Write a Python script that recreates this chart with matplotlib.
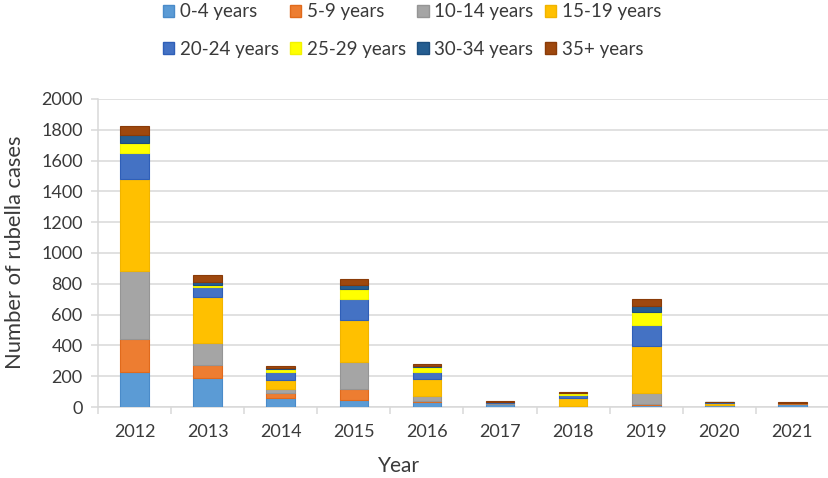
import matplotlib
matplotlib.use("Agg")
import matplotlib.pyplot as plt
from matplotlib.patches import Patch
import numpy as np

years = ["2012", "2013", "2014", "2015", "2016", "2017", "2018", "2019", "2020", "2021"]
groups = ["0-4 years", "5-9 years", "10-14 years", "15-19 years",
          "20-24 years", "25-29 years", "30-34 years", "35+ years"]

age_0_4   = [225, 186, 60, 43, 30, 20, 3, 13, 12, 22]
age_5_9   = [218, 90, 32, 77, 12, 2, 2, 4, 1, 1]
age_10_14 = [441, 141, 24, 171, 31, 2, 3, 77, 2, 1]
age_15_19 = [597, 294, 59, 274, 107, 3, 52, 300, 8, 1]
age_20_24 = [167, 66, 52, 137, 47, 5, 19, 141, 8, 1]
age_25_29 = [66, 17, 19, 62, 30, 1, 9, 84, 1, 0]
age_30_34 = [54, 15, 6, 30, 8, 2, 6, 40, 1, 1]
age_35p   = [58, 45, 13, 34, 13, 6, 4, 43, 1, 7]

series = [age_0_4, age_5_9, age_10_14, age_15_19, age_20_24, age_25_29, age_30_34, age_35p]
colors = ["#5B9BD5", "#ED7D31", "#A5A5A5", "#FFC000", "#4472C4", "#FFFF00", "#255E91", "#9E480E"]
edges = ["#4A8BC9", "#E06A1C", "#959595", "#F0B400", "#2F5FB8", "#F2F200", "#1C4E7E", "#8A3B08"]

plt.rcParams['font.family'] = ['Lato', 'DejaVu Sans']
txt = "#3A3A3A"
grid = "#D9D9D9"

fig = plt.figure(figsize=(8.29, 4.78), dpi=100)
ax = fig.add_axes([0.1182, 0.1485, 0.8818, 0.6445])

x = np.arange(len(years))
bottom = np.zeros(len(years))
for vals, c, e in zip(series, colors, edges):
    v = np.array(vals, dtype=float)
    ax.bar(x, v, 0.39, bottom=bottom, color=c, edgecolor=e, linewidth=0.8, zorder=3)
    bottom += v

ax.set_xlim(-0.5, len(years) - 0.5)
ax.set_ylim(0, 2000)
ax.set_yticks(np.arange(0, 2001, 200))
ax.yaxis.grid(True, color=grid, linewidth=1.1, zorder=0)
ax.set_axisbelow(True)

ax.set_xticks(x)
ax.set_xticklabels(years)
ax.set_xticks(np.arange(-0.5, len(years), 1), minor=True)
ax.tick_params(axis='x', which='major', length=0, pad=12, labelsize=13, labelcolor=txt)
ax.tick_params(axis='x', which='minor', length=5, color=grid, width=1.1)
ax.tick_params(axis='y', length=5, color=grid, width=1.1, pad=6, labelsize=13, labelcolor=txt)

for s in ['top', 'right']:
    ax.spines[s].set_visible(False)
for s in ['left', 'bottom']:
    ax.spines[s].set_color(grid)
    ax.spines[s].set_linewidth(1.1)

fig.text(399 / 829, 1 - 466 / 478, "Year", fontsize=15, color=txt, ha='center', va='center')
fig.text(15 / 829, 1 - 252 / 478, "Number of rubella cases", fontsize=15.8, color=txt,
         ha='center', va='center', rotation=90)

order = [0, 4, 1, 5, 2, 6, 3, 7]
handles = [Patch(facecolor=c, edgecolor=e) for c, e in zip(colors, edges)]
fig.legend([handles[i] for i in order], [groups[i] for i in order],
           loc='center', bbox_to_anchor=(412 / 829, 1 - 30.5 / 478), ncol=4,
           frameon=False, fontsize=13.5, handlelength=0.6, handleheight=0.6,
           handletextpad=0.3, columnspacing=0.6, labelspacing=1.1, labelcolor=txt,
           borderpad=0)

fig.savefig("out.png", dpi=100)
